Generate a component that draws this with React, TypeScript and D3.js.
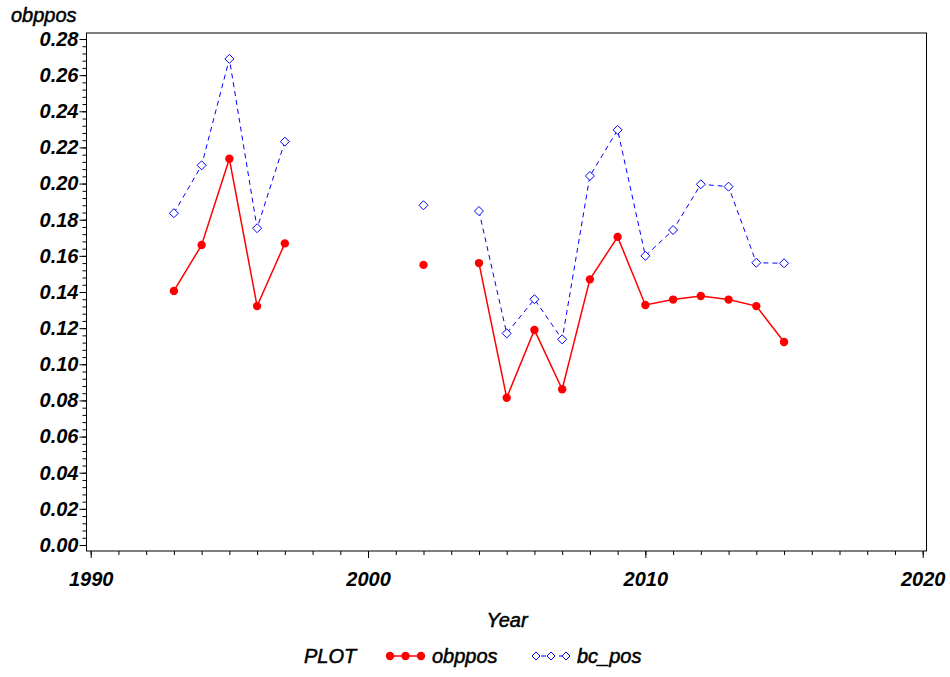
import React, { useEffect, useRef } from 'react';
import * as d3 from 'd3';

const years = [
  1993, 1994, 1995, 1996, 1997, 1998, 1999, 2000, 2001, 2002, 2003, 2004,
  2005, 2006, 2007, 2008, 2009, 2010, 2011, 2012, 2013, 2014, 2015,
];
const obppos = [
  0.1406, 0.166, 0.2137, 0.1322, 0.1669, null, null, null, null, 0.155, null,
  0.156, 0.0815, 0.119, 0.0862, 0.147, 0.1705, 0.1328, 0.1358, 0.1378, 0.1358,
  0.1322, 0.1123,
];
const bcPos = [
  0.1836, 0.2101, 0.269, 0.1753, 0.2232, null, null, null, null, 0.188, null,
  0.1848, 0.1171, 0.136, 0.1138, 0.2042, 0.2297, 0.16, 0.1743, 0.1996, 0.1983,
  0.1562, 0.1559,
];
const yTicks = [0, 0.02, 0.04, 0.06, 0.08, 0.1, 0.12, 0.14, 0.16, 0.18, 0.2, 0.22, 0.24, 0.26, 0.28];
const xTicks = [1990, 2000, 2010, 2020];

const FONT = '"Liberation Sans", Arial, Helvetica, sans-serif';

export default function App() {
  const ref = useRef<SVGSVGElement>(null);

  useEffect(() => {
    const svg = d3.select(ref.current);
    svg.selectAll('*').remove();

    const frame = { left: 86.5, right: 926.5, top: 33, bottom: 551 };
    const x = d3.scaleLinear().domain([1990, 2020]).range([90.7, 922.7]);
    const y = d3.scaleLinear().domain([0, 0.28]).range([545, 39]);

    // frame
    svg
      .append('rect')
      .attr('x', frame.left)
      .attr('y', frame.top)
      .attr('width', frame.right - frame.left)
      .attr('height', frame.bottom - frame.top)
      .attr('fill', 'none')
      .attr('stroke', '#000')
      .attr('stroke-width', 1);

    const tickText = (g: any) =>
      g
        .selectAll('text')
        .attr('font-family', FONT)
        .attr('font-size', 20)
        .attr('font-style', 'italic')
        .attr('font-weight', 'bold')
        .attr('fill', '#000');

    // y axis
    const yMinor = d3.range(0, 0.2801, 0.004);
    svg
      .append('g')
      .attr('transform', `translate(${frame.left},0)`)
      .call(d3.axisLeft(y).tickValues(yMinor).tickSize(4).tickFormat(() => ''))
      .call((g) => g.select('.domain').remove());
    svg
      .append('g')
      .attr('transform', `translate(${frame.left},0)`)
      .call(d3.axisLeft(y).tickValues(yTicks).tickSize(7).tickPadding(1).tickFormat(d3.format('.2f')))
      .call((g) => g.select('.domain').remove())
      .call(tickText);

    // x axis
    svg
      .append('g')
      .attr('transform', `translate(0,${frame.bottom})`)
      .call(d3.axisBottom(x).tickValues(d3.range(1990, 2021, 1)).tickSize(4).tickFormat(() => ''))
      .call((g) => g.select('.domain').remove());
    svg
      .append('g')
      .attr('transform', `translate(0,${frame.bottom})`)
      .call(d3.axisBottom(x).tickValues(xTicks).tickSize(7).tickPadding(14).tickFormat(d3.format('d')))
      .call((g) => g.select('.domain').remove())
      .call(tickText);

    // labels share a slightly heavier italic
    const label = (sel: any) =>
      sel
        .attr('font-family', FONT)
        .attr('font-size', 20)
        .attr('font-style', 'italic')
        .attr('fill', '#000')
        .attr('stroke', '#000')
        .attr('stroke-width', 0.5);

    svg.append('text').attr('x', 11).attr('y', 22).call(label).text('obppos');
    svg
      .append('text')
      .attr('x', 507)
      .attr('y', 627)
      .attr('text-anchor', 'middle')
      .call(label)
      .text('Year');

    const data = years.map((yr, i) => ({ yr, a: obppos[i], b: bcPos[i] }));

    // obppos: red solid with filled dots
    const lineA = d3
      .line<any>()
      .defined((d) => d.a != null)
      .x((d) => x(d.yr))
      .y((d) => y(d.a));
    svg
      .append('path')
      .datum(data)
      .attr('d', lineA)
      .attr('fill', 'none')
      .attr('stroke', '#ff0000')
      .attr('stroke-width', 1.5);
    svg
      .append('g')
      .selectAll('circle')
      .data(data.filter((d) => d.a != null))
      .join('circle')
      .attr('cx', (d) => x(d.yr))
      .attr('cy', (d) => y(d.a as number))
      .attr('r', 4.2)
      .attr('fill', '#ff0000');

    // bc_pos: blue dashed with open diamonds
    const lineB = d3
      .line<any>()
      .defined((d) => d.b != null)
      .x((d) => x(d.yr))
      .y((d) => y(d.b));
    svg
      .append('path')
      .datum(data)
      .attr('d', lineB)
      .attr('fill', 'none')
      .attr('stroke', '#0000ff')
      .attr('stroke-width', 1)
      .attr('stroke-dasharray', '5,4');
    const diamond = 'M0,-4.5L4.5,0L0,4.5L-4.5,0Z';
    svg
      .append('g')
      .selectAll('path')
      .data(data.filter((d) => d.b != null))
      .join('path')
      .attr('transform', (d) => `translate(${x(d.yr)},${y(d.b as number)})`)
      .attr('d', diamond)
      .attr('fill', '#fff')
      .attr('stroke', '#0000ff')
      .attr('stroke-width', 1);

    // legend
    const ly = 656;
    const lg = svg.append('g');
    lg.append('text').attr('x', 304).attr('y', ly + 7).call(label).text('PLOT');
    lg.append('line')
      .attr('x1', 390).attr('x2', 421).attr('y1', ly).attr('y2', ly)
      .attr('stroke', '#ff0000').attr('stroke-width', 1.5);
    lg.selectAll('circle.l')
      .data([390, 405.5, 421])
      .join('circle')
      .attr('cx', (d) => d).attr('cy', ly).attr('r', 4.2).attr('fill', '#ff0000');
    lg.append('text').attr('x', 432).attr('y', ly + 7).call(label).text('obppos');
    lg.append('line')
      .attr('x1', 536).attr('x2', 565).attr('y1', ly).attr('y2', ly)
      .attr('stroke', '#0000ff').attr('stroke-width', 1).attr('stroke-dasharray', '5,4')
      .attr('stroke-dashoffset', -5);
    lg.selectAll('path.l')
      .data([536, 551, 566])
      .join('path')
      .attr('transform', (d) => `translate(${d},${ly})`)
      .attr('d', 'M0,-4L4,0L0,4L-4,0Z')
      .attr('fill', '#fff').attr('stroke', '#0000ff').attr('stroke-width', 1);
    lg.append('text').attr('x', 577).attr('y', ly + 7).call(label).text('bc_pos');
  }, []);

  return (
    <svg
      ref={ref}
      width={950}
      height={677}
      style={{ position: 'absolute', left: 0, top: 0, background: '#fff' }}
    />
  );
}
